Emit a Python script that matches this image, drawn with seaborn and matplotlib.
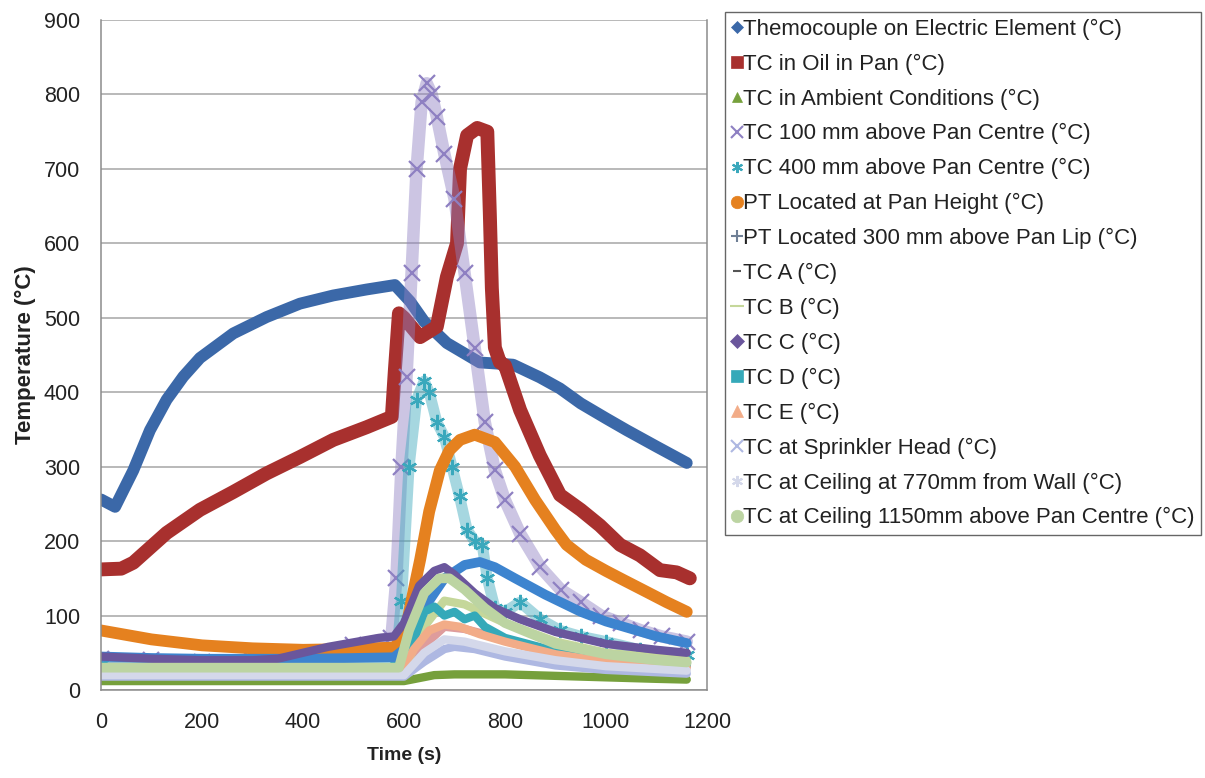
import numpy as np
import pandas as pd
import matplotlib
matplotlib.use("Agg")
import matplotlib.pyplot as plt
from matplotlib.lines import Line2D
import seaborn as sns

# ---------------- data ----------------
elem_t = [0, 28, 64, 97, 130, 163, 196, 262, 328, 394, 460, 526, 582, 612, 640, 685, 750, 816, 869, 909, 950, 1000, 1041, 1100, 1160]
elem_v = [256, 246, 295, 349, 390, 421, 446, 479, 501, 519, 530, 538, 544, 522, 495, 466, 440, 437, 420, 405, 385, 365, 349, 327, 305]

oil_t = [0, 40, 64, 130, 196, 262, 328, 394, 460, 526, 576, 582, 590, 600, 632, 665, 685, 705, 711, 725, 745, 765, 770, 774, 780, 790, 800, 830, 869, 909, 950, 988, 1028, 1067, 1107, 1140, 1166]
oil_v = [162, 163, 171, 211, 242, 266, 291, 313, 336, 353, 367, 430, 506, 500, 474, 488, 555, 600, 700, 745, 755, 750, 640, 540, 460, 440, 436, 376, 315, 262, 242, 221, 195, 181, 161, 158, 150]

amb_t = [0, 600, 630, 660, 700, 800, 900, 1000, 1100, 1160]
amb_v = [12, 12, 16, 20, 21, 21, 19, 17, 15, 14]

tc100_t = [0, 100, 200, 300, 400, 500, 575, 585, 595, 605, 615, 625, 635, 645, 655, 665, 680, 700, 720, 740, 760, 780, 800, 830, 870, 910, 950, 990, 1030, 1070, 1110, 1160]
tc100_v = [42, 40, 38, 40, 45, 60, 70, 150, 300, 420, 560, 700, 790, 815, 800, 770, 720, 660, 560, 460, 360, 295, 255, 210, 165, 135, 118, 100, 90, 80, 72, 65]

tc400_t = [0, 300, 585, 595, 610, 625, 640, 650, 665, 680, 695, 710, 725, 740, 755, 765, 780, 800, 830, 870, 909, 950, 1000, 1067, 1160]
tc400_v = [35, 35, 40, 120, 300, 390, 415, 400, 360, 340, 300, 260, 215, 200, 195, 150, 110, 105, 118, 95, 80, 72, 65, 54, 47]

ptpan_t = [0, 50, 100, 200, 300, 400, 500, 580, 600, 615, 632, 650, 671, 690, 711, 740, 780, 820, 860, 900, 922, 960, 1000, 1034, 1080, 1120, 1160]
ptpan_v = [80, 74, 68, 60, 56, 54, 55, 57, 70, 120, 175, 240, 295, 322, 336, 343, 333, 300, 255, 215, 195, 175, 160, 148, 132, 118, 105]

pt300_t = [0, 100, 200, 300, 400, 500, 580, 610, 640, 680, 720, 750, 780, 820, 880, 950, 1000, 1050, 1100, 1160]
pt300_v = [45, 43, 42, 42, 42, 43, 44, 60, 110, 150, 168, 172, 165, 150, 128, 105, 92, 82, 72, 63]

tca_t = [0, 600, 640, 680, 720, 800, 900, 1000, 1160]
tca_v = [24, 24, 60, 85, 82, 68, 52, 42, 33]

tcb_t = [0, 600, 640, 680, 720, 800, 900, 1000, 1160]
tcb_v = [28, 28, 85, 120, 115, 90, 65, 50, 40]

tcc_t = [0, 100, 200, 300, 350, 400, 450, 500, 550, 580, 600, 630, 660, 680, 700, 740, 780, 830, 900, 950, 1000, 1050, 1100, 1160]
tcc_v = [45, 42, 40, 40, 42, 50, 58, 64, 70, 72, 90, 140, 160, 165, 155, 130, 110, 95, 78, 70, 62, 58, 54, 50]

tcd_t = [0, 590, 615, 640, 660, 680, 700, 720, 740, 760, 800, 900, 1000, 1160]
tcd_v = [25, 25, 60, 105, 112, 100, 105, 95, 100, 85, 70, 52, 42, 33]

tce_t = [0, 590, 620, 650, 680, 710, 750, 800, 900, 1000, 1160]
tce_v = [22, 22, 55, 80, 88, 85, 75, 65, 48, 38, 30]

spr_t = [0, 600, 640, 680, 700, 740, 800, 900, 1000, 1160]
spr_v = [18, 18, 38, 55, 58, 55, 45, 33, 27, 22]

c770_t = [0, 600, 640, 680, 720, 800, 900, 1000, 1160]
c770_v = [20, 20, 50, 68, 65, 52, 40, 32, 26]

c1150_t = [0, 300, 590, 610, 640, 670, 690, 720, 760, 800, 900, 1000, 1100, 1160]
c1150_v = [30, 30, 30, 80, 130, 150, 150, 135, 110, 90, 62, 48, 40, 37]

labels = [
    "Themocouple on Electric Element (°C)",
    "TC in Oil in Pan (°C)",
    "TC in Ambient Conditions (°C)",
    "TC 100 mm above Pan Centre (°C)",
    "TC 400 mm above Pan Centre (°C)",
    "PT Located at Pan Height (°C)",
    "PT Located 300 mm above Pan Lip (°C)",
    "TC A (°C)",
    "TC B (°C)",
    "TC C (°C)",
    "TC D (°C)",
    "TC E (°C)",
    "TC at Sprinkler Head (°C)",
    "TC at Ceiling at 770mm from Wall (°C)",
    "TC at Ceiling 1150mm above Pan Centre (°C)",
]
x_ticks = [0, 200, 400, 600, 800, 1000, 1200]
y_ticks = [0, 100, 200, 300, 400, 500, 600, 700, 800, 900]

series = [
    (elem_t, elem_v), (oil_t, oil_v), (amb_t, amb_v), (tc100_t, tc100_v), (tc400_t, tc400_v),
    (ptpan_t, ptpan_v), (pt300_t, pt300_v), (tca_t, tca_v), (tcb_t, tcb_v), (tcc_t, tcc_v),
    (tcd_t, tcd_v), (tce_t, tce_v), (spr_t, spr_v), (c770_t, c770_v), (c1150_t, c1150_v),
]

# ---------------- styles ----------------
colors = ["#3B68A8", "#A8302E", "#76A03C", "#8E80C2", "#3AA8BC", "#E5811F", "#3D84CF",
          "#DE9C9C", "#C5D79A", "#6A569C", "#35A9B9", "#F2AC88", "#AEB8E2", "#D4D8EA", "#BCD4A2"]
widths = [8.5, 10, 6, 9, 8, 8.5, 7, 6, 6, 6, 6, 6, 6, 6, 7]
markers = [None, None, None, "x", (6, 2, 0), None, None, None, None, None, None, None, None, None, None]
leg_markers = ["D", "s", "^", "x", (6, 2, 0), "o", "+", "_", "_", "D", "s", "^", "x", (6, 2, 0), "o"]
leg_sizes = [6, 8, 7, 8, 8, 9, 9, 6, 10, 7, 8, 8, 8, 8, 9]

sns.set_theme(style="white")
plt.rcParams["font.family"] = ["Liberation Sans", "DejaVu Sans"]

fig = plt.figure(figsize=(12.05, 7.78), dpi=100)
ax = fig.add_axes([0.0838, 0.1131, 0.5029, 0.8612])

for (t, v), c, lw, m in zip(series, colors, widths, markers):
    df = pd.DataFrame({"t": t, "v": v})
    kw = dict(solid_capstyle="round", solid_joinstyle="round")
    if m is None:
        sns.lineplot(data=df, x="t", y="v", ax=ax, color=c, linewidth=lw, sort=False,
                     legend=False, estimator=None, **kw)
    else:
        # translucent band (dense marker cloud) + marker glyphs
        sns.lineplot(data=df, x="t", y="v", ax=ax, color=c, linewidth=lw, sort=False,
                     legend=False, estimator=None, alpha=0.45, **kw)
        sns.lineplot(data=df, x="t", y="v", ax=ax, color=c, linewidth=0, sort=False,
                     legend=False, estimator=None, marker=m, markersize=11,
                     markeredgewidth=1.6, markeredgecolor=c)

ax.set_xlim(0, 1200)
ax.set_ylim(0, 900)
ax.set_xticks(x_ticks)
ax.set_yticks(y_ticks)
ax.yaxis.grid(True, color="#A6A6A6", linewidth=1.1)
ax.xaxis.grid(False)
ax.set_axisbelow(True)
for s in ax.spines.values():
    s.set_color("#8C8C8C")
    s.set_linewidth(1.1)
ax.spines["top"].set_visible(False)
ax.tick_params(axis="both", which="major", direction="out", length=5, width=1,
               color="#8C8C8C", labelsize=15.5, labelcolor="#222222")
ax.tick_params(axis="y", pad=10)
ax.tick_params(axis="x", pad=11)
ax.set_xlabel("Time (s)", fontsize=14, fontweight="bold", color="#222222", labelpad=10)
ax.set_ylabel("Temperature (°C)", fontsize=16, fontweight="bold", color="#222222", labelpad=6)

handles = [Line2D([], [], linestyle="none", marker=m, color=c, markersize=s,
                  markeredgewidth=1.5 if m in ("x", "+", "_", (6, 2, 0)) else 0.5, markeredgecolor=c)
           for m, c, s in zip(leg_markers, colors, leg_sizes)]
handles[6].set_color("#6F7F95")
handles[6].set_markeredgecolor("#6F7F95")
handles[7].set_color("#555555")
handles[7].set_markeredgecolor("#555555")

leg = fig.legend(handles, labels, loc="upper left", bbox_to_anchor=(0.6017, 0.9846),
                 frameon=True, fancybox=False, edgecolor="#404040", fontsize=16,
                 handlelength=0.45, handletextpad=0.05, borderpad=0.3, labelspacing=0.62,
                 borderaxespad=0)
leg.get_frame().set_linewidth(1.0)
for txt in leg.get_texts():
    txt.set_color("#222222")

fig.savefig("out.png", dpi=100)
